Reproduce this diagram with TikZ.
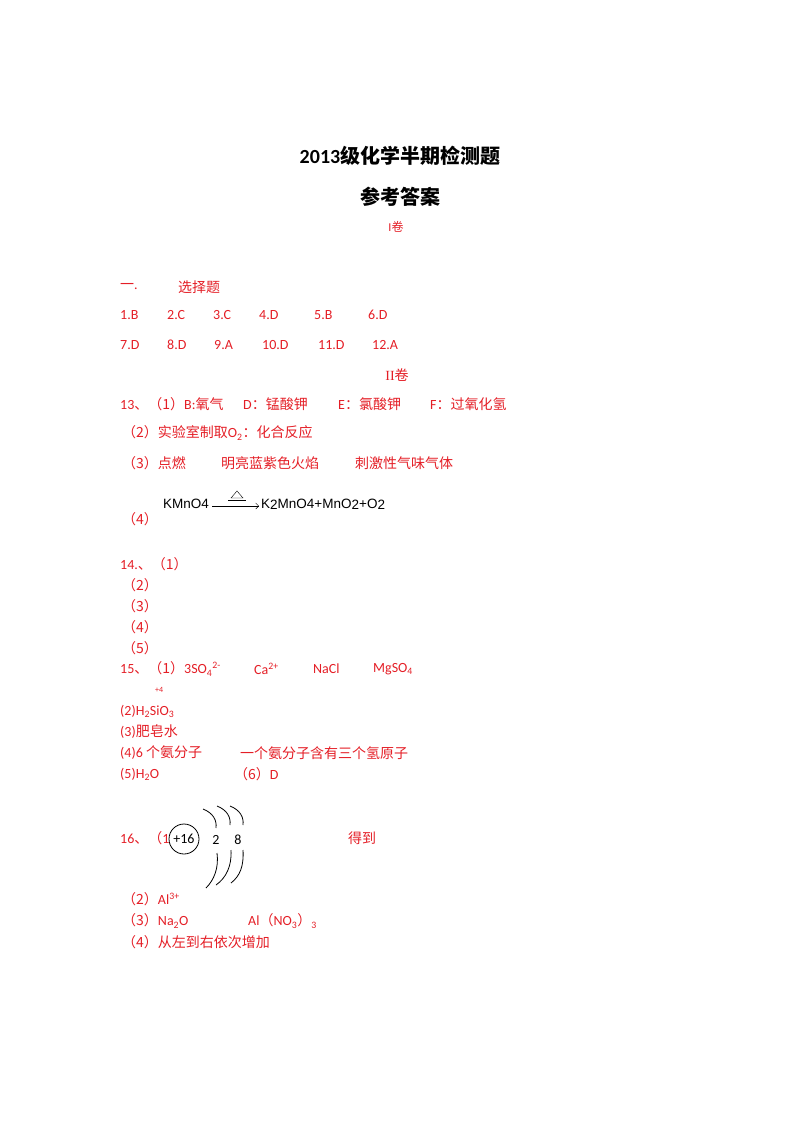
\documentclass[tikz,border=0pt]{standalone}
\usepackage{fontspec}
\usetikzlibrary{arrows.meta}
\setmainfont{Carlito}
\newfontfamily\cjk{Noto Sans CJK SC}
\newfontfamily\ser{Liberation Serif}
\newfontfamily\ari{Liberation Sans}
\definecolor{ans}{RGB}{228,30,38}
\begin{document}
\begin{tikzpicture}[x=1pt,y=-1pt,
  t/.style={anchor=west,inner sep=0,text=ans,font=\fontsize{14}{14}\selectfont},
  k/.style={anchor=west,inner sep=0,font=\fontsize{14}{14}\selectfont}]
\useasboundingbox (0,0) rectangle (800,1132);
\node[font=\bfseries\fontsize{20}{20}\selectfont] (ti) at (400,156) {2013{\cjk\bfseries 级化学半期检测题}};
\node[font=\cjk\bfseries\fontsize{20}{20}\selectfont] (ti2) at (400,197) {参考答案};
\node[text=ans,font=\fontsize{12}{12}\selectfont] (v1) at (396,227) {I{\cjk 卷}};
\node[t] (a0) at (120,287) {{\cjk 一}.};
\node[t] (a0b) at (178,287) {\cjk 选择题};
\foreach \n/\x in {1.B/120,2.C/167,3.C/213,4.D/259,5.B/314,6.D/368}{\node[t] at (\x,315) {\n};}
\foreach \n/\x in {7.D/120,8.D/167,9.A/214,10.D/262,11.D/318,12.A/372}{\node[t] at (\x,345) {\n};}
\node[text=ans,font=\ser\fontsize{14}{14}\selectfont] (v2) at (397,375) {II{\cjk 卷}};
\node[t] (q13) at (120,404) {13{\cjk 、（1）}B:{\cjk 氧气}};
\node[t] (q13b) at (243,404) {D{\cjk ：锰酸钾}};
\node[t] (q13c) at (338,404) {E{\cjk ：氯酸钾}};
\node[t] (q13d) at (430,404) {F{\cjk ：过氧化氢}};
\node[t] (q132) at (122,433) {{\cjk （2）实验室制取}O\textsubscript{2}{\cjk ：化合反应}};
\node[t] (q133) at (122,463) {\cjk （3）点燃};
\node[t] (q133b) at (221,463) {\cjk 明亮蓝紫色火焰};
\node[t] (q133c) at (355,463) {\cjk 刺激性气味气体};
\node[t] (q134) at (122,519) {\cjk （4）};
\node[k,font=\ari\fontsize{13.5}{13.5}\selectfont] (r) at (163,504) {KMnO4};
\node[k,font=\ari\fontsize{13.5}{13.5}\selectfont] (p) at (261,504) {K\raisebox{-1pt}{2}MnO4+MnO\raisebox{-1pt}{2}+O\raisebox{-1pt}{2}};
\draw[-{Straight Barb[length=3pt]},thin] ([shift={(3,2)}]r.east) -- ([shift={(-2,2)}]p.west);
\draw[thin] (231,498)--(237,491)--(243,498)--cycle;
\draw[thin] (228,500)--(246,500);
\node[t] (q14) at (120,564) {14.{\cjk 、（1）}};
\foreach \i/\y in {2/585,3/606,4/627,5/648}{\node[t] at (122,\y) {\cjk （\i）};}
\node[t] (q15) at (120,669) {15{\cjk 、（1）}3SO\textsubscript{4}\textsuperscript{2-}};
\node[t] (ca) at (254,669) {Ca\textsuperscript{2+}};
\node[t] (na) at (313,669) {NaCl};
\node[t] (mg) at (373,669) {MgSO\textsubscript{4}};
\node[t,font=\fontsize{8}{8}\selectfont] (p4) at (155,690) {+4};
\node[t] (q152) at (120,711) {(2)H\textsubscript{2}SiO\textsubscript{3}};
\node[t] (q153) at (120,732) {(3){\cjk 肥皂水}};
\node[t] (q154) at (120,753) {(4)6 {\cjk 个氨分子}};
\node[t] (q154b) at (240,753) {\cjk 一个氨分子含有三个氢原子};
\node[t] (q155) at (120,774) {(5)H\textsubscript{2}O};
\node[t] (q156) at (234,774) {{\cjk （6）}D};
\node[t] (q16) at (120,838) {16{\cjk 、（}1};
\draw[thick] (184,839) circle (15);
\node[font=\fontsize{14}{14}\selectfont] (nuc) at (184,839) {+16};
\node[font=\fontsize{14}{14}\selectfont] (s1) at (216,840) {2};
\node[font=\fontsize{14}{14}\selectfont] (s2) at (238,840) {8};
\begin{scope}[thick]
\draw (203,809) .. controls (213,813) and (217,820) .. (216,828);
\draw (217,806) .. controls (227,810) and (231,817) .. (230,825);
\draw (230,806) .. controls (240,810) and (244,817) .. (243,825);
\draw (217,853) .. controls (219,868) and (214,880) .. (206,888);
\draw (231,850) .. controls (232,866) and (226,878) .. (216,885);
\draw (243,850) .. controls (244,866) and (240,876) .. (231,883);
\end{scope}
\node[t] (get) at (348,838) {\cjk 得到};
\node[t] (q162) at (122,899) {{\cjk （2）}Al\textsuperscript{3+}};
\node[t] (q163) at (122,921) {{\cjk （3）}Na\textsubscript{2}O};
\node[t] (q163b) at (248,921) {Al{\cjk （}NO\textsubscript{3}{\cjk ）}\textsubscript{3}};
\node[t] (q164) at (122,942) {\cjk （4）从左到右依次增加};
\end{tikzpicture}
\end{document}
